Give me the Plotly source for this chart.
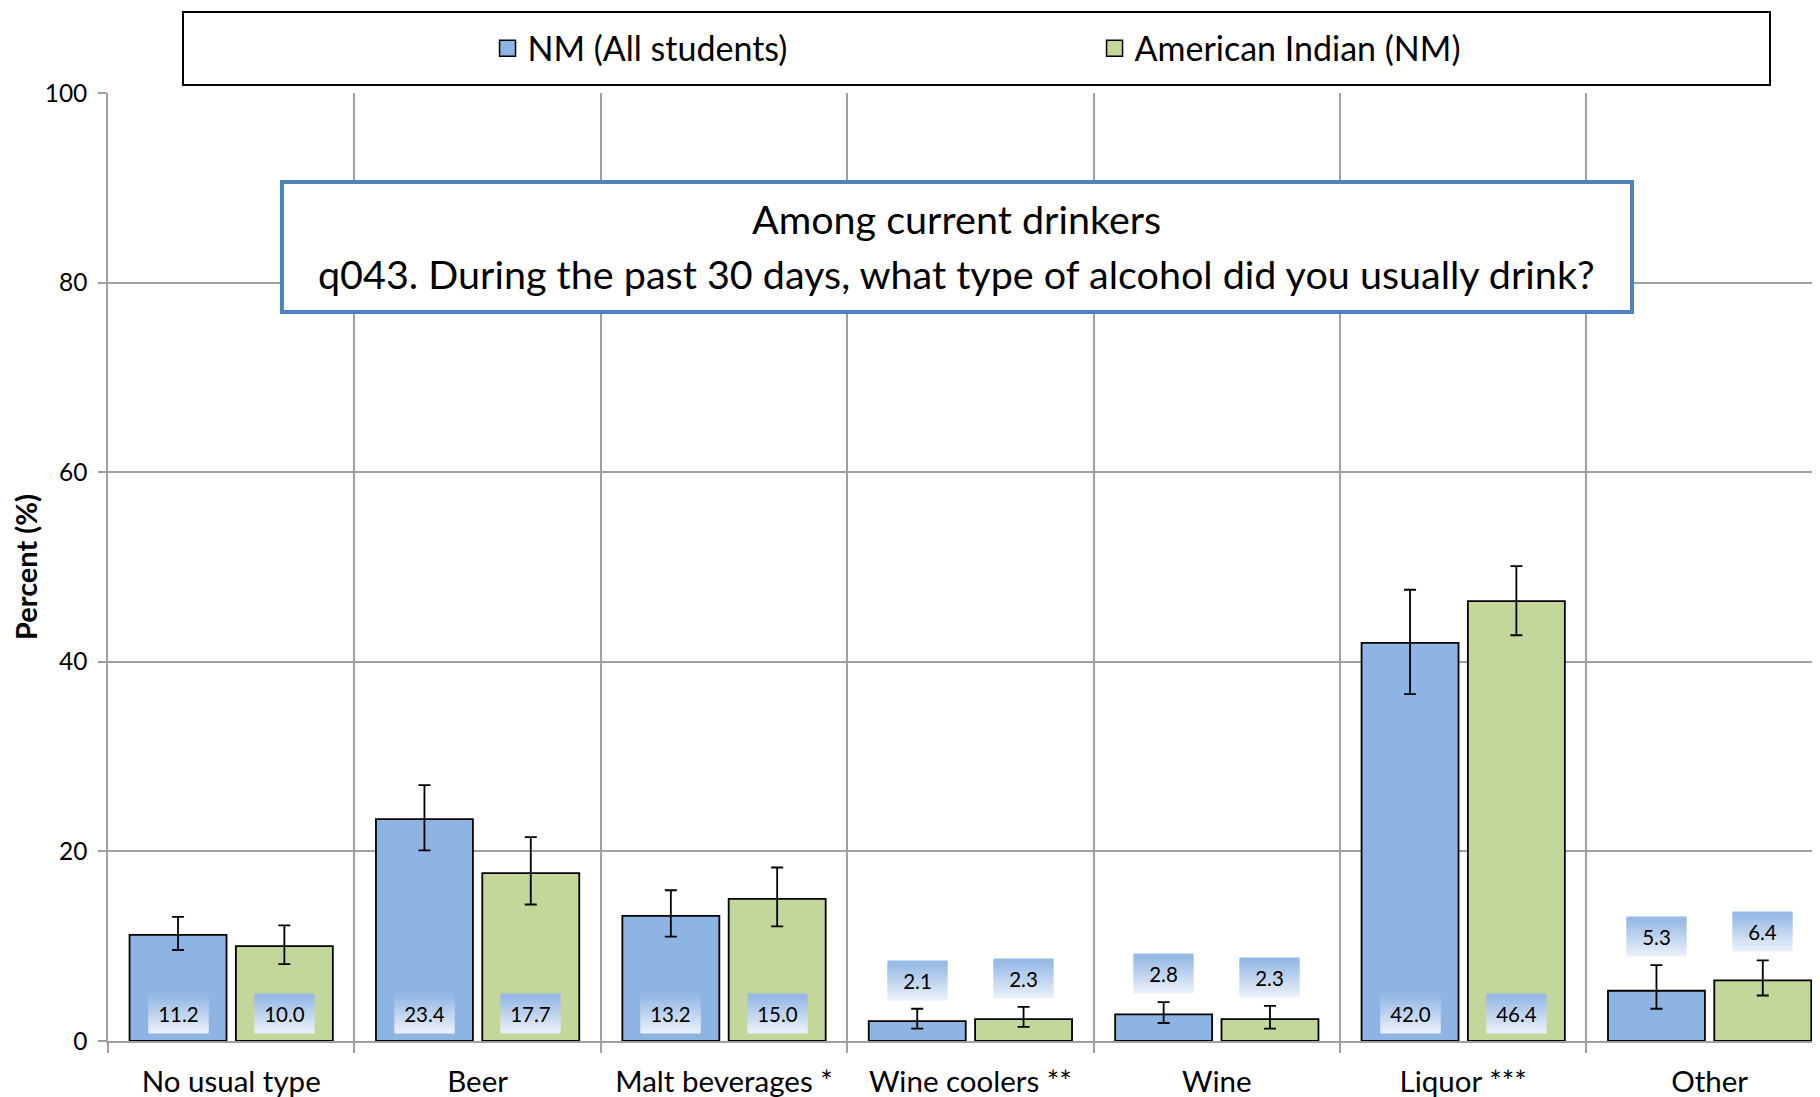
import plotly.graph_objects as go

# ----- data
categories = ["No usual type", "Beer", "Malt beverages *", "Wine coolers **",
              "Wine", "Liquor ***", "Other"]

nm_all = [11.2, 23.4, 13.2, 2.1, 2.8, 42.0, 5.3]
nm_all_lo = [9.6, 20.1, 11.0, 1.3, 1.9, 36.6, 3.4]
nm_all_hi = [13.1, 27.0, 15.9, 3.4, 4.1, 47.6, 8.0]

am_ind = [10.0, 17.7, 15.0, 2.3, 2.3, 46.4, 6.4]
am_ind_lo = [8.1, 14.4, 12.1, 1.5, 1.3, 42.8, 4.8]
am_ind_hi = [12.2, 21.5, 18.3, 3.6, 3.7, 50.1, 8.5]

series_names = ["NM (All students)", "American Indian (NM)"]
title_lines = ["Among current drinkers",
               "q043. During the past 30 days, what type of alcohol did you usually drink?"]

FONT = "Lato"
BLUE = "#8EB4E3"
GREEN = "#C4D79B"
GRID = "#A0A0A0"
BARGAP = 0.137

fig = go.Figure()
for name, vals, lo, hi, col in [(series_names[0], nm_all, nm_all_lo, nm_all_hi, BLUE),
                                (series_names[1], am_ind, am_ind_lo, am_ind_hi, GREEN)]:
    fig.add_trace(go.Bar(
        x=categories, y=vals, name=name, legendgroup=name, showlegend=False,
        marker=dict(color=col, line=dict(color="black", width=1.8)),
        error_y=dict(type="data", symmetric=False,
                     array=[h - v for h, v in zip(hi, vals)],
                     arrayminus=[v - l for v, l in zip(vals, lo)],
                     color="black", thickness=1.8, width=6),
    ))
    # legend-only entry, so the swatch can be a bigger square than the bar default
    fig.add_trace(go.Scatter(
        x=[categories[0]], y=[None], name=name, legendgroup=name, mode="markers",
        marker=dict(symbol="square", size=16, color=col,
                    line=dict(color="black", width=1.5)),
        hoverinfo="skip",
    ))


def band_color(t):
    # vertical gradient of the label boxes: pale at the bottom, blue at the top
    c0, c1 = (234, 240, 249), (150, 185, 229)
    return "rgb({},{},{})".format(*[round(a + (b - a) * t) for a, b in zip(c0, c1)])


# value labels: inside near the base for tall bars, above the error bar for short ones
half = (1 - BARGAP) / 4
BOX_W, BOX_H, STEP = 59, 38, 2
for k, (vals, hi) in enumerate([(nm_all, nm_all_hi), (am_ind, am_ind_hi)]):
    off = -half if k == 0 else half
    for i, (v, h) in enumerate(zip(vals, hi)):
        inside = v >= 10
        y0, shift = (0, 7) if inside else (h, 8)
        nb = BOX_H // STEP
        for b in range(nb):
            fig.add_annotation(x=i + off, y=y0, xref="x", yref="y", yanchor="bottom",
                               yshift=shift + b * STEP, text=" ", showarrow=False,
                               bgcolor=band_color(b / (nb - 1)), width=BOX_W,
                               height=STEP + 1, borderpad=0, font=dict(size=1))
        fig.add_annotation(
            x=i + off, y=y0, xref="x", yref="y", yanchor="bottom", yshift=shift,
            text=f"{v:.1f}", showarrow=False,
            font=dict(family=FONT, size=20.5, color="black"),
            width=BOX_W, height=BOX_H, borderpad=0,
        )

# title box
fig.add_shape(type="rect", xref="paper", yref="paper",
              x0=0.1016, x1=0.8902, y0=0.7690, y1=0.9061,
              line=dict(color="#4F81BD", width=4), fillcolor="white", layer="above")
for txt, yy in zip(title_lines, [0.8671, 0.8101]):
    fig.add_annotation(x=0.4959, y=yy, xref="paper", yref="paper", text=txt,
                       xanchor="center", yanchor="middle", showarrow=False,
                       font=dict(family=FONT, size=39.5, color="black"))

# legend frame
fig.add_shape(type="rect", xref="paper", yref="paper",
              x0=0.0438, x1=0.9708, y0=1.0084, y1=1.0854,
              line=dict(color="black", width=2), fillcolor="white", layer="below")

# page body has an 8px margin, so the figure is 8px smaller and margins shifted
fig.update_layout(
    width=1812, height=1089,
    margin=dict(l=100, r=0, t=85, b=56),
    plot_bgcolor="white", paper_bgcolor="white",
    barmode="group", bargap=BARGAP, bargroupgap=0.088,
    font=dict(family=FONT, color="black"),
    legend=dict(orientation="h", x=0.2217, xanchor="left", y=1.0469, yanchor="middle",
                font=dict(family=FONT, size=34), entrywidth=562, itemsizing="trace",
                bgcolor="rgba(0,0,0,0)", borderwidth=0),
    xaxis=dict(range=[-0.5, 6.448], tickson="boundaries", showgrid=True,
               gridcolor=GRID, gridwidth=1.5, showline=True, linecolor=GRID,
               linewidth=1.5, ticks="outside", ticklen=10, tickcolor=GRID,
               tickwidth=1.5, tickfont=dict(family=FONT, size=29.5),
               ticklabelstandoff=14, automargin=False),
    yaxis=dict(range=[0, 100], dtick=20, showgrid=True, gridcolor=GRID,
               gridwidth=1.5, showline=True, linecolor=GRID, linewidth=1.5,
               ticks="outside", ticklen=8, tickcolor=GRID, tickwidth=1.5,
               tickfont=dict(family=FONT, size=24.5), zeroline=False,
               ticklabelstandoff=6,
               title=dict(text="<b>Percent (%)</b>", font=dict(family=FONT, size=29),
                          standoff=4),
               automargin=False),
)

fig.write_html("out.html")
